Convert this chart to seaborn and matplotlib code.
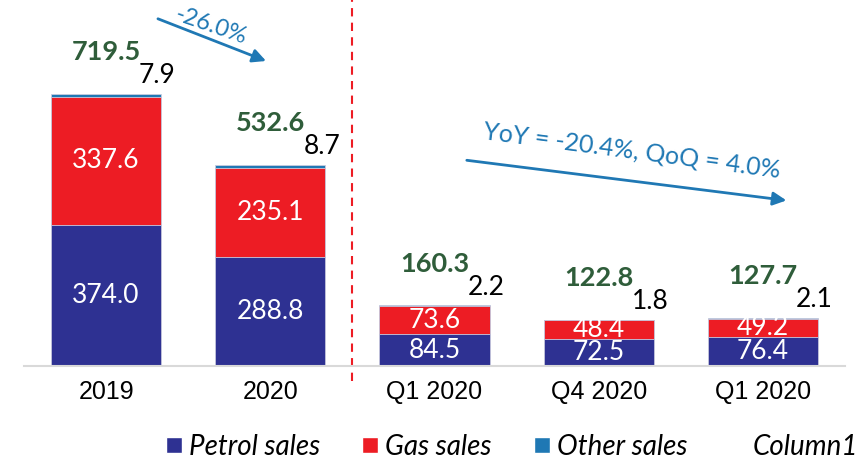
import numpy as np
import pandas as pd
import seaborn as sns
import matplotlib.pyplot as plt
from matplotlib.lines import Line2D

# data
periods = ['2019', '2020', 'Q1 2020', 'Q4 2020', 'Q1 2020 ']
tick_labels = ['2019', '2020', 'Q1 2020', 'Q4 2020', 'Q1 2020']
petrol = [374.0, 288.8, 84.5, 72.5, 76.4]
gas = [337.6, 235.1, 73.6, 48.4, 49.2]
other = [7.9, 8.7, 2.2, 1.8, 2.1]
totals = [719.5, 532.6, 160.3, 122.8, 127.7]

c_petrol = '#2E3192'
c_gas = '#ED1C24'
c_other = '#1F78B4'
c_total = '#2F5D3A'

sns.set_theme(style='white')
plt.rcParams['font.family'] = ['Lato', 'DejaVu Sans']

df = pd.DataFrame({'period': periods, 'petrol': petrol, 'gas': gas, 'other': other})
df['pg'] = df['petrol'] + df['gas']
df['all'] = df['pg'] + df['other']

fig = plt.figure(figsize=(8.63, 4.61), dpi=100)
ax = fig.add_axes([24 / 863, 95 / 461, 821 / 863, 366 / 461])

# stacked bars drawn from the tallest layer down
for col, c in [('all', c_other), ('pg', c_gas), ('petrol', c_petrol)]:
    sns.barplot(data=df, x='period', y=col, color=c, width=0.67, saturation=1,
                edgecolor='#C9CCE0', linewidth=0.6, ax=ax)

ax.set_xlim(-0.5, 4.5)
ax.set_ylim(0, 968)
ax.set_xlabel('')
ax.set_ylabel('')
ax.set_yticks([])
ax.set_xticks(range(len(tick_labels)), labels=tick_labels, fontfamily='Liberation Sans',
              fontsize=18, color='black')
for s in ['left', 'right', 'top']:
    ax.spines[s].set_visible(False)
ax.spines['bottom'].set_color('#D9D9D9')
ax.spines['bottom'].set_linewidth(1.5)
ax.tick_params(axis='x', length=0, pad=10)

# segment labels
for i in range(len(periods)):
    ax.text(i, petrol[i] / 2, f'{petrol[i]:.1f}', ha='center', va='center',
            color='white', fontsize=19)
    ax.text(i, petrol[i] + gas[i] / 2, f'{gas[i]:.1f}', ha='center', va='center',
            color='white', fontsize=19)
    top = petrol[i] + gas[i] + other[i]
    ax.annotate(f'{totals[i]:.1f}', (i, top), xytext=(0, 30), textcoords='offset points',
                ha='center', va='center', color=c_total, fontsize=19.5, fontweight='bold')
    ax.annotate(f'{other[i]:.1f}', (i, top), xytext=(37, 13), textcoords='offset points',
                ha='center', va='center', color='black', fontsize=19)

# divider
ax.axvline(1.5, ymin=-0.04, ymax=1, color='#ED1C24', linestyle=(0, (4, 3)),
           linewidth=1.5, clip_on=False)

# growth arrows
ax.annotate('', xy=(0.99, 804), xytext=(0.30, 921),
            arrowprops=dict(arrowstyle='-|>', color=c_other, lw=2, mutation_scale=20))
ax.text(0.64, 900, '-26.0%', color=c_other, fontsize=17, rotation=-19,
        ha='center', va='center')
ax.annotate('', xy=(4.16, 437), xytext=(2.18, 545),
            arrowprops=dict(arrowstyle='-|>', color=c_other, lw=2, mutation_scale=20))
ax.text(3.2, 569, 'YoY = -20.4%, QoQ = 4.0%', color=c_other, fontsize=18, rotation=-7.5,
        ha='center', va='center')

# legend
handles = [Line2D([], [], marker='s', color='w', markerfacecolor=c, markersize=11, linestyle='')
           for c in [c_petrol, c_gas, c_other, 'none']]
leg = fig.legend(handles, ['Petrol sales', 'Gas sales', 'Other sales', 'Column1'],
                 loc='center', bbox_to_anchor=(0.59, 1 - 447 / 461), ncol=4, frameon=False,
                 prop={'size': 20, 'style': 'italic'}, handletextpad=0.05, columnspacing=1.3,
                 handlelength=1)
for t in leg.get_texts():
    t.set_color('black')

fig.savefig('out.png', dpi=100)
